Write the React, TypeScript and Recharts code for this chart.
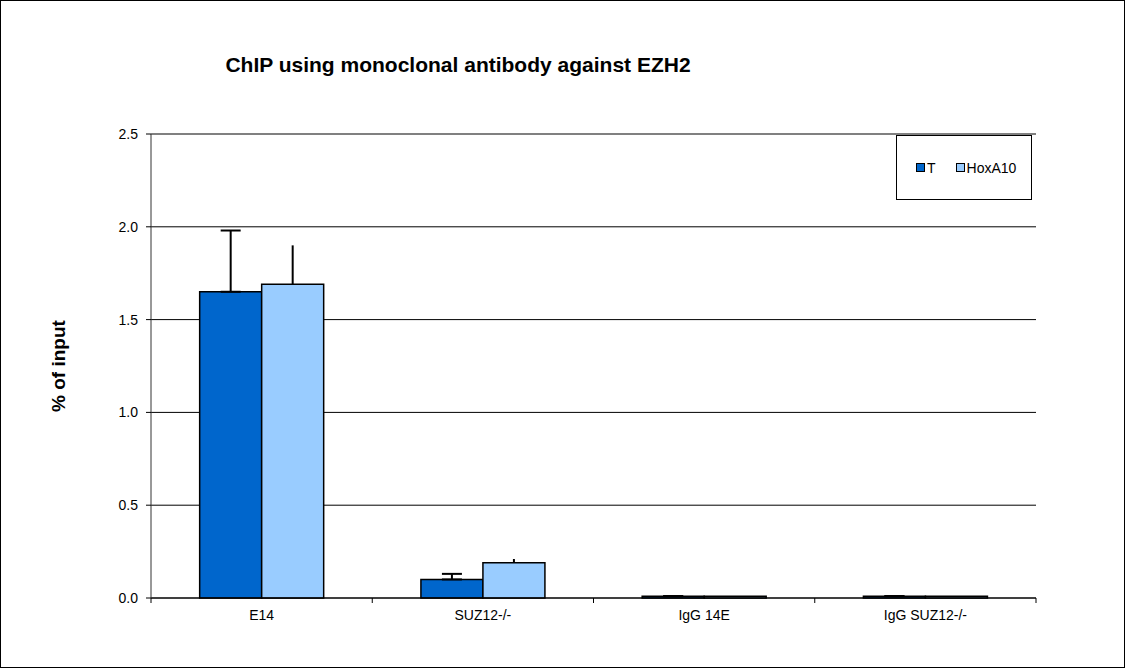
import React from "react";
import {
  BarChart,
  Bar,
  XAxis,
  YAxis,
  CartesianGrid,
  ErrorBar,
  Legend,
  ReferenceLine,
} from "recharts";

const categories = ["E14", "SUZ12-/-", "IgG 14E", "IgG SUZ12-/-"];
const tValues = [1.65, 0.1, 0.01, 0.01];
const tErrors = [0.33, 0.03, 0, 0];
const hoxValues = [1.69, 0.19, 0.01, 0.01];
const hoxErrors = [0.21, 0.02, 0, 0];
const yTicks = [0, 0.5, 1.0, 1.5, 2.0, 2.5];

const data = categories.map((name, i) => ({
  name,
  T: tValues[i],
  tErr: [0, tErrors[i]],
  HoxA10: hoxValues[i],
  hoxErr: [0, hoxErrors[i]],
}));

const font = "'Liberation Sans', Arial, sans-serif";
const PLOT_LEFT = 150;
const PLOT_RIGHT = 1035;
const band = (PLOT_RIGHT - PLOT_LEFT) / categories.length;

const XTick = (props: any) => {
  const { x, y, payload, index } = props;
  const left = x - band / 2;
  const right = x + band / 2;
  return (
    <g>
      <line x1={left} y1={y - 8} x2={left} y2={y - 3} stroke="#000" />
      {index === categories.length - 1 && (
        <line x1={right} y1={y - 8} x2={right} y2={y - 3} stroke="#000" />
      )}
      <text x={x} y={y + 14} textAnchor="middle" fontSize={14} fontFamily={font} fill="#000">
        {payload.value}
      </text>
    </g>
  );
};

const LegendBox = () => (
  <div
    style={{
      width: 136,
      height: 65,
      border: "1px solid #000",
      background: "#fff",
      fontFamily: font,
      fontSize: 14,
      display: "flex",
      alignItems: "center",
      paddingLeft: 19,
      boxSizing: "border-box",
    }}
  >
    <span style={{ display: "inline-block", width: 7, height: 7, background: "#0066CC", border: "1px solid #000", marginRight: 2 }} />
    <span style={{ marginRight: 20 }}>T</span>
    <span style={{ display: "inline-block", width: 7, height: 7, background: "#99CCFF", border: "1px solid #000", marginRight: 2 }} />
    <span>HoxA10</span>
  </div>
);

export default function App() {
  return (
    <div
      style={{
        position: "absolute",
        left: 0,
        top: 0,
        width: 1125,
        height: 668,
        border: "1px solid #000",
        boxSizing: "border-box",
        background: "#fff",
        fontFamily: font,
      }}
    >
      <div
        style={{
          position: "absolute",
          left: 0,
          width: 914,
          top: 52,
          textAlign: "center",
          fontWeight: "bold",
          fontSize: 21,
          fontFamily: font,
        }}
      >
        ChIP using monoclonal antibody against EZH2
      </div>
      <BarChart
        width={1123}
        height={666}
        data={data}
        margin={{ top: 133, right: 88, bottom: 39, left: 0 }}
        barCategoryGap="22%"
        barGap={0}
      >
        <CartesianGrid vertical={false} stroke="#000" strokeDasharray="" />
        <XAxis
          dataKey="name"
          height={30}
          axisLine={{ stroke: "#000" }}
          tickLine={false}
          tick={<XTick />}
          interval={0}
        />
        <YAxis
          width={150}
          domain={[0, 2.5]}
          ticks={yTicks}
          tickFormatter={(v: number) => v.toFixed(1)}
          tick={{ fontSize: 14, fill: "#000", fontFamily: font }}
          tickSize={5}
          tickMargin={8}
          axisLine={{ stroke: "#333" }}
          tickLine={{ stroke: "#000" }}
          label={{
            value: "% of input",
            angle: -90,
            position: "center",
            dx: -18,
            style: { fontWeight: "bold", fontSize: 19, fill: "#000", fontFamily: font },
          }}
        />
        <YAxis
          yAxisId="r"
          orientation="right"
          width={0}
          domain={[0, 2.5]}
          tick={false}
          tickLine={false}
          axisLine={{ stroke: "#808080", strokeWidth: 2 }}
        />
        <ReferenceLine y={2.5} stroke="#808080" strokeWidth={2} />
        <Legend
          layout="horizontal"
          verticalAlign="middle"
          align="center"
          content={<LegendBox />}
          wrapperStyle={{ position: "absolute", left: 895, top: 134, width: 136, height: 65 }}
        />
        <Bar dataKey="T" fill="#0066CC" stroke="#000" strokeWidth={1.5} isAnimationActive={false}>
          <ErrorBar dataKey="tErr" direction="y" width={10} stroke="#000" strokeWidth={2} />
        </Bar>
        <Bar dataKey="HoxA10" fill="#99CCFF" stroke="#000" strokeWidth={1.5} isAnimationActive={false}>
          <ErrorBar dataKey="hoxErr" direction="y" width={0} stroke="#000" strokeWidth={2} />
        </Bar>
      </BarChart>
    </div>
  );
}
